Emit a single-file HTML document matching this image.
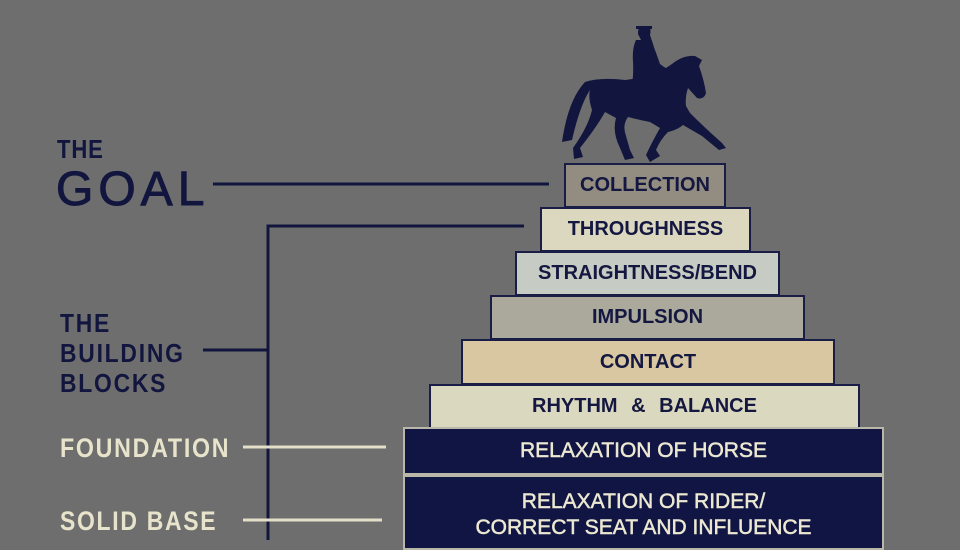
<!DOCTYPE html>
<html><head><meta charset="utf-8"><style>
body{margin:0;width:960px;height:540px;overflow:hidden;background:#6e6e6e;font-family:"Liberation Sans",sans-serif;}
.c{position:absolute;left:0;top:0}
.b{position:absolute;box-sizing:border-box;border:2px solid #1a1d45;display:flex;align-items:center;justify-content:center;font-weight:bold;font-size:20px;color:#14173f;white-space:nowrap;}
.d{background:#101543;color:#ece8d2;border:2px solid #b9b7a8;text-align:center;line-height:26px;font-weight:normal;font-size:21px;-webkit-text-stroke:0.5px #ece8d2;}
.t{position:absolute;font-family:"Liberation Sans",sans-serif;font-weight:bold;white-space:nowrap;letter-spacing:1px;transform-origin:0 0;}
</style></head><body>
<svg class="c" width="960" height="540">
<g fill="#12163f">
<path d="M585 82 Q600 77 625 80 L640 78 L642 60 Q638 50 641 40 L638 34 Q640 26 646 26 Q652 27 650 35 L653 44 Q656 55 658 64 L666 68 L672 64 Q683 55 695 56 L702 60 L699 66 Q704 80 706 93 Q704 100 697 98 L688 88 Q685 97 686 106 L690 113 Q705 128 722 143 L726 148 L719 150 L702 136 L683 125 Q677 130 668 132 Q660 140 656 150 L660 156 L650 162 L646 155 Q652 142 660 128 L650 122 Q640 120 628 117 Q622 125 626 136 L630 150 L634 158 L625 160 L620 148 Q612 132 616 118 L605 112 Q596 128 580 148 L583 157 L574 159 L573 148 Q588 127 592 110 Q588 98 590 90 Q580 105 572 140 L562 142 Q568 100 585 82 Z"/>
<circle cx="644" cy="32" r="6"/>
<rect x="636" y="26" width="16" height="3"/>
<path d="M636 40 L651 40 Q656 52 660 64 L668 70 L666 74 L656 70 L654 88 Q648 98 638 100 L630 94 Q634 80 633 62 Q632 48 636 40 Z"/>
</g>
<g stroke="#12163f" stroke-width="3" fill="none">
<line x1="213" y1="184" x2="549" y2="184"/>
<polyline points="524,226 268,226 268,540"/>
<line x1="203" y1="350" x2="268" y2="350"/>
</g>
<g stroke="#e3dfc8" stroke-width="3">
<line x1="243" y1="447" x2="386" y2="447"/>
<line x1="243" y1="520" x2="382" y2="520"/>
</g>
</svg>
<div class="t" style="left:57px;top:134px;font-size:26px;color:#12163f;transform:scaleX(0.85);">THE</div>
<div class="t" style="left:56px;top:162px;font-size:48px;color:#12163f;font-weight:normal;-webkit-text-stroke:1px #12163f;letter-spacing:5px;">GOAL</div>
<div class="t" style="left:60px;top:308px;font-size:26px;line-height:30px;color:#12163f;letter-spacing:2px;transform:scaleX(0.88);">THE<br>BUILDING<br>BLOCKS</div>
<div class="t" style="left:60px;top:433px;font-size:27px;color:#e8e4cc;letter-spacing:2px;transform:scaleX(0.86);">FOUNDATION</div>
<div class="t" style="left:60px;top:506px;font-size:27px;color:#e8e4cc;letter-spacing:2px;transform:scaleX(0.85);">SOLID BASE</div>
<div class="b" style="left:564px;top:163px;width:162px;height:45px;background:#938c81;">COLLECTION</div>
<div class="b" style="left:540px;top:207px;width:211px;height:45px;background:#dcd8c0;">THROUGHNESS</div>
<div class="b" style="left:515px;top:251px;width:265px;height:45px;background:#c6ccc3;">STRAIGHTNESS/BEND</div>
<div class="b" style="left:490px;top:295px;width:315px;height:45px;background:#aaa99c;">IMPULSION</div>
<div class="b" style="left:461px;top:339px;width:374px;height:46px;background:#d8c7a1;">CONTACT</div>
<div class="b" style="left:429px;top:384px;width:431px;height:45px;background:#dbd8c0;word-spacing:8px;">RHYTHM &amp; BALANCE</div>
<div class="b d" style="left:403px;top:427px;width:481px;height:48px;">RELAXATION OF HORSE</div>
<div class="b d" style="left:403px;top:475px;width:481px;height:75px;align-items:flex-start;padding-top:12px;">RELAXATION OF RIDER/<br>CORRECT SEAT AND INFLUENCE</div>
</body></html>
